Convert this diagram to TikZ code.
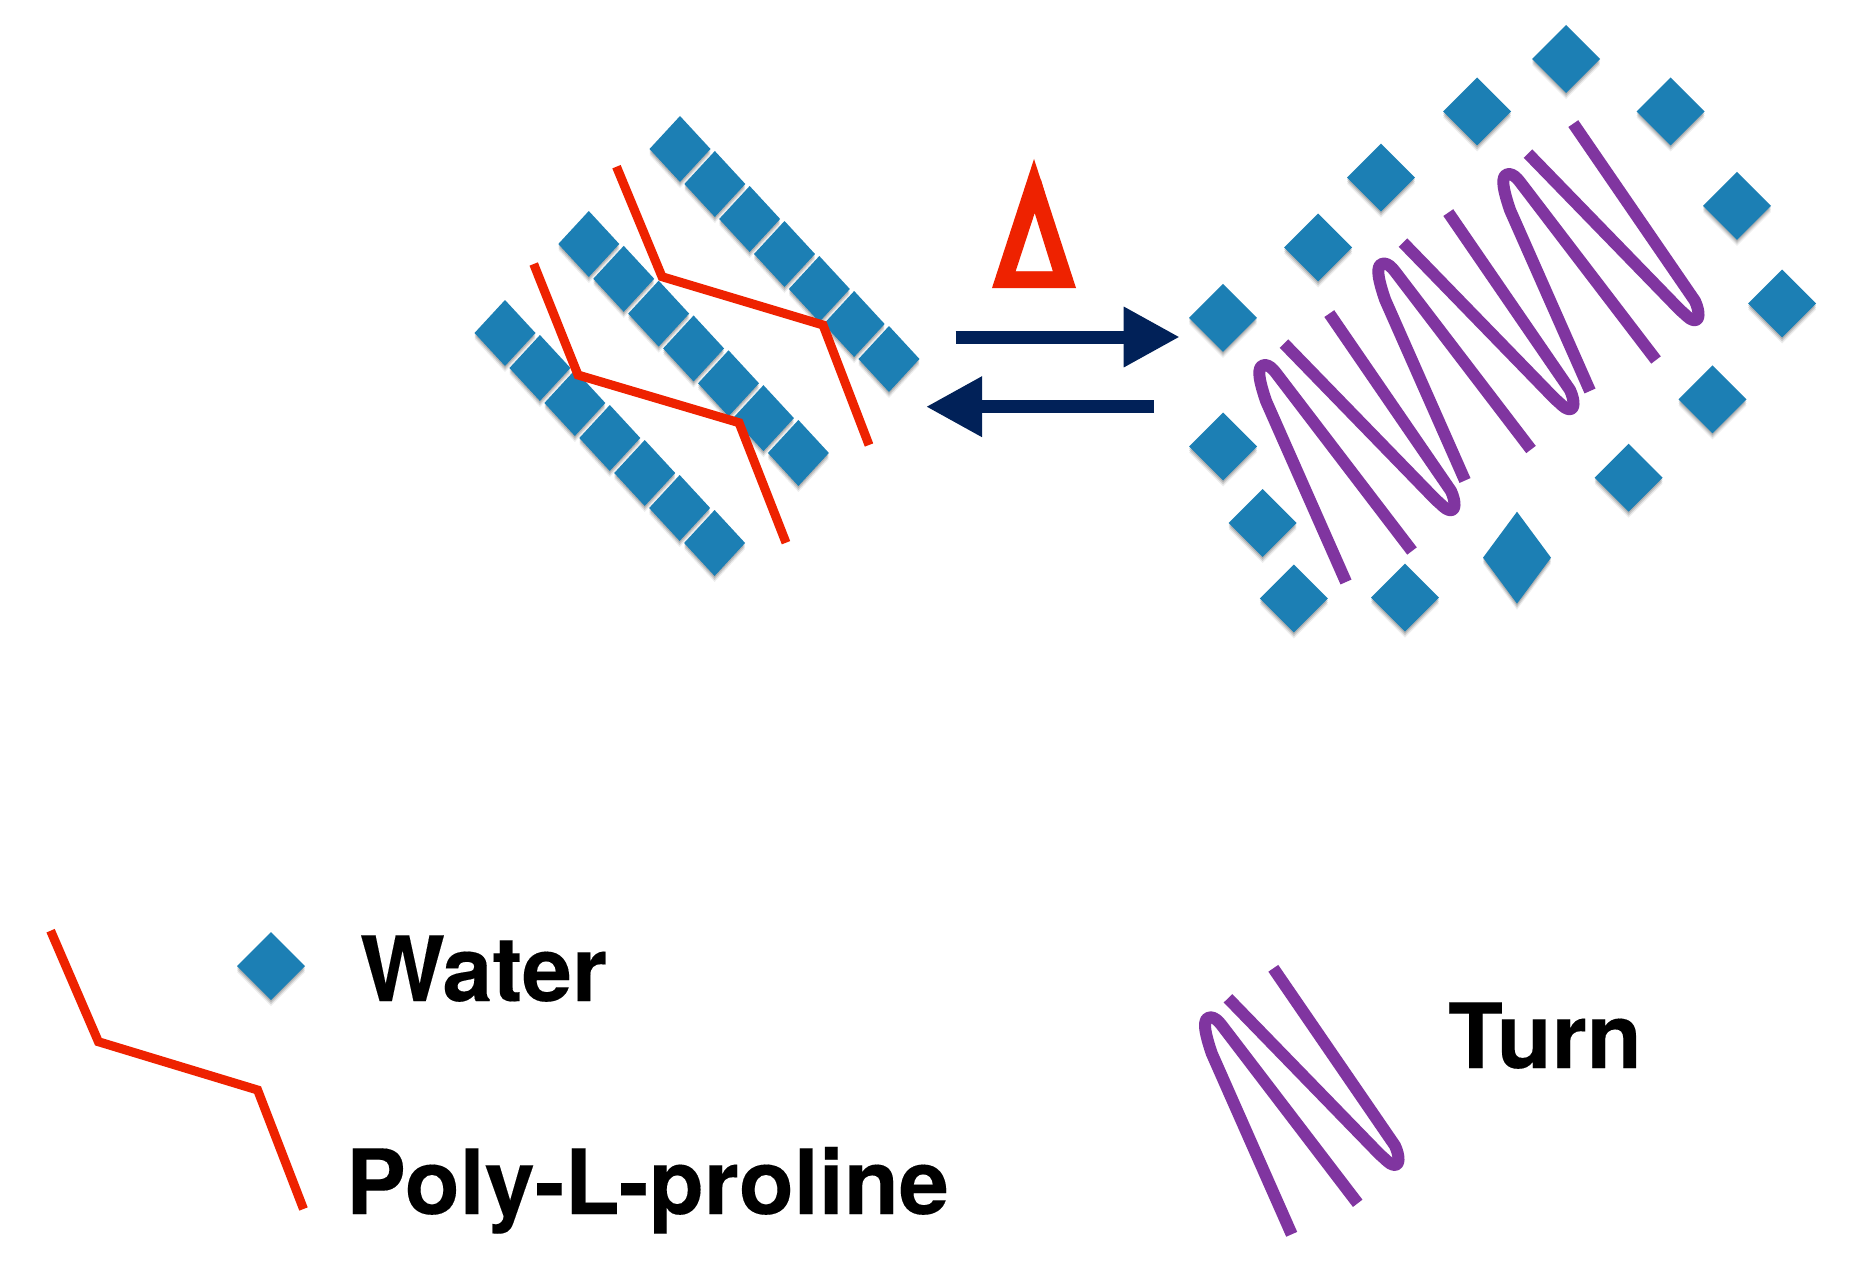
\documentclass[tikz,border=0pt]{standalone}
\usepackage{fontspec}
\setmainfont{TeX Gyre Heros}
\newfontfamily\deltafont{Liberation Sans}
\usetikzlibrary{shapes.geometric,shadows,arrows.meta}
\definecolor{waterblue}{HTML}{1C7FB4}
\definecolor{redline}{HTML}{EE2200}
\definecolor{navyarrow}{HTML}{012158}
\definecolor{turnpurple}{HTML}{8035A0}
\tikzset{
  softshadow/.style={
    general shadow={shadow yshift=-2pt,fill=black,opacity=.14},
    general shadow={shadow yshift=-4pt,fill=black,opacity=.12},
    general shadow={shadow yshift=-6pt,fill=black,opacity=.07}},
  wbase/.style={shape=diamond,fill=waterblue,inner sep=0pt,outer sep=0pt,softshadow},
  chainw/.style={wbase,minimum width=61pt,minimum height=66pt},
  freew/.style={wbase,minimum width=68pt,minimum height=68pt},
  tallw/.style={wbase,minimum width=68pt,minimum height=92pt},
  proline/.style={draw=redline,line width=9pt,line join=miter},
  turnline/.style={draw=turnpurple,line width=12pt,line join=round},
  eqarrow/.style={draw=navyarrow,line width=13pt,-{Triangle[length=56pt,width=57pt,fill=navyarrow]}},
  lbl/.style={anchor=base west,inner sep=0pt,outer sep=0pt,text=black,font=\bfseries\fontsize{90}{92}\selectfont\addfontfeature{FakeBold=0.15}},
  hairA/.pic={\draw[turnline] (85,217) -- (5,36) .. controls (-1,18) and (-6,0) .. (4,0) .. controls (8,0) and (12,4) .. (15,8) -- (151,186);},
  hairB/.pic={\draw[turnline] (-170,-163.4) -- (-18,-7) .. controls (-12,-2) and (-9,2) .. (-5,3) .. controls (2,5) and (2,-5) .. (-3,-16) -- (-124.7,-193.4);}
}
\begin{document}
\begin{tikzpicture}[x=1pt,y=-1pt]
\useasboundingbox[fill=white] (0,0) rectangle (1850,1279);
% chains of water
\foreach \i in {0,...,6}{
  \node[chainw] (ca\i) at ({505+\i*34.93},{333+\i*35}) {};
}
\foreach \i in {0,...,6}{
  \node[chainw] (cb\i) at ({588.8+\i*34.93},{244+\i*34.83}) {};
}
\foreach \i in {0,...,6}{
  \node[chainw] (cc\i) at ({680+\i*34.83},{149+\i*35}) {};
}
% proline strands
\coordinate (pa1) at (616.5,166.7); \coordinate (pa2) at (662,276.7);
\coordinate (pa3) at (823,325);     \coordinate (pa4) at (869,445);
\coordinate (pb1) at (533.7,264);   \coordinate (pb2) at (578,375);
\coordinate (pb3) at (739,422.7);   \coordinate (pb4) at (786,542.7);
\draw[proline] (pa1) -- (pa2) -- (pa3) -- (pa4);
\draw[proline] (pb1) -- (pb2) -- (pb3) -- (pb4);
% delta: the glyph, with its outline sharpened to the printed triangle
\node[anchor=base,inner sep=0pt,text=redline] (delta) at (1034.5,284)
  {\deltafont\fontsize{150}{150}\selectfont\addfontfeature{FakeBold=1.5}\scalebox{.72}[1]{Δ}};
\fill[redline,even odd rule] (1034,159) -- (992,288) -- (1076,288) -- cycle
  (1034.7,213) -- (1015.5,271.7) -- (1053,271.7) -- cycle;
% equilibrium arrows
\coordinate (ras) at (955.7,337); \coordinate (rae) at (1179.7,337);
\coordinate (las) at (1154,406.7); \coordinate (lae) at (926,406.7);
\draw[eqarrow] (ras) -- (rae);
\draw[eqarrow] (las) -- (lae);
% free water
\node[freew] (w1) at (1566,59) {};
\node[freew] (w2) at (1477,111.5) {};
\node[freew] (w3) at (1670.5,111.5) {};
\node[freew] (w4) at (1381,177.6) {};
\node[freew] (w5) at (1737,205.8) {};
\node[freew] (w6) at (1318,247.5) {};
\node[freew] (w7) at (1223,317.8) {};
\node[freew] (w8) at (1782,303.5) {};
\node[freew] (w9) at (1223,446.5) {};
\node[freew] (w10) at (1712.5,399.4) {};
\node[freew] (w11) at (1262.5,523) {};
\node[freew] (w12) at (1628.6,477.7) {};
\node[freew] (w13) at (1293.8,598.5) {};
\node[freew] (w14) at (1405,597.6) {};
\node[tallw] (w15) at (1517,557.7) {};
% turn
\pic at (1261,365) {hairA};
\pic at (1454,507) {hairB};
\pic at (1380,263.5) {hairA};
\pic at (1573,406) {hairB};
\pic at (1505,174) {hairA};
\pic at (1698,317) {hairB};
% legend
\coordinate (l1) at (50.6,930.7); \coordinate (l2) at (98.4,1041.7);
\coordinate (l3) at (257.6,1090); \coordinate (l4) at (303.5,1209);
\draw[proline] (l1) -- (l2) -- (l3) -- (l4);
\node[freew] (lw) at (271,966) {};
\node[lbl] (twater) at (360,1001) {Water};
\node[lbl] (tpoly) at (346,1214) {Poly-L-proline};
\pic at (1206.7,1017.3) {hairA};
\pic at (1398,1161.7) {hairB};
\node[lbl] (tturn) at (1448,1068) {Turn};
\end{tikzpicture}
\end{document}
